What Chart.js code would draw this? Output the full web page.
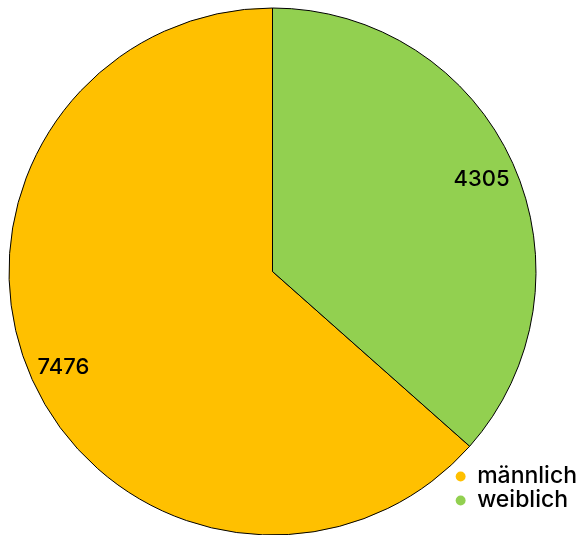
<!DOCTYPE html>
<html>
<head>
<meta charset="utf-8">
<script src="https://cdn.jsdelivr.net/npm/chart.js@4/dist/chart.umd.min.js"></script>
<style>
  html, body { margin: 0; padding: 0; background: #ffffff; }
  #wrap { width: 582px; height: 535px; }
</style>
</head>
<body>
<div id="wrap"><canvas id="c" width="582" height="535"></canvas></div>
<script>
const categories = ['männlich', 'weiblich'];
const values = [7476, 4305];
const colors = ['#FFC000', '#92D050'];

const FONT = 'Inter, "Open Sans", sans-serif';

// the first slice (männlich) starts where the second one (weiblich, drawn from 12 o'clock) ends
const total = values.reduce((a, b) => a + b, 0);
const startRotation = values[1] / total * 360;

// Keep the pie full-size; the legend overlaps the lower right corner
const fullAreaPlugin = {
  id: 'fullArea',
  afterLayout(chart) {
    const left = 8.5, top = 7.5, size = 528;
    chart.chartArea = { left, top, right: left + size, bottom: top + size, width: size, height: size };
  }
};

// Value labels near the outer edge of each slice
const valueLabels = {
  id: 'valueLabels',
  afterDatasetsDraw(chart) {
    const ctx = chart.ctx;
    const meta = chart.getDatasetMeta(0);
    ctx.save();
    ctx.font = '500 22px ' + FONT;
    ctx.fillStyle = '#000000';
    ctx.textAlign = 'center';
    ctx.textBaseline = 'middle';
    meta.data.forEach((arc, i) => {
      const p = arc.getProps(['x', 'y', 'startAngle', 'endAngle', 'outerRadius'], true);
      const mid = (p.startAngle + p.endAngle) / 2;
      const r = p.outerRadius * 0.87;
      ctx.fillText(String(chart.data.datasets[0].data[i]), p.x + Math.cos(mid) * r, p.y + Math.sin(mid) * r + 2);
    });
    ctx.restore();
  }
};

new Chart(document.getElementById('c'), {
  type: 'pie',
  data: {
    labels: categories,
    datasets: [{
      data: values,
      backgroundColor: colors,
      borderColor: '#000000',
      borderWidth: 1,
      hoverOffset: 0
    }]
  },
  options: {
    responsive: false,
    animation: false,
    rotation: startRotation,
    layout: { padding: { right: -5, bottom: 22 } },
    plugins: {
      tooltip: { enabled: false },
      legend: {
        position: 'right',
        align: 'end',
        labels: {
          usePointStyle: true,
          pointStyle: 'circle',
          boxWidth: 10,
          boxHeight: 7,
          padding: 1,
          color: '#000000',
          font: { family: FONT, size: 23, weight: '500', lineHeight: 1 },
          generateLabels(chart) {
            const items = Chart.overrides.pie.plugins.legend.labels.generateLabels(chart);
            items.forEach(it => { it.lineWidth = 0; it.strokeStyle = 'rgba(0,0,0,0)'; });
            return items;
          }
        }
      }
    }
  },
  plugins: [fullAreaPlugin, valueLabels]
});
</script>
</body>
</html>
